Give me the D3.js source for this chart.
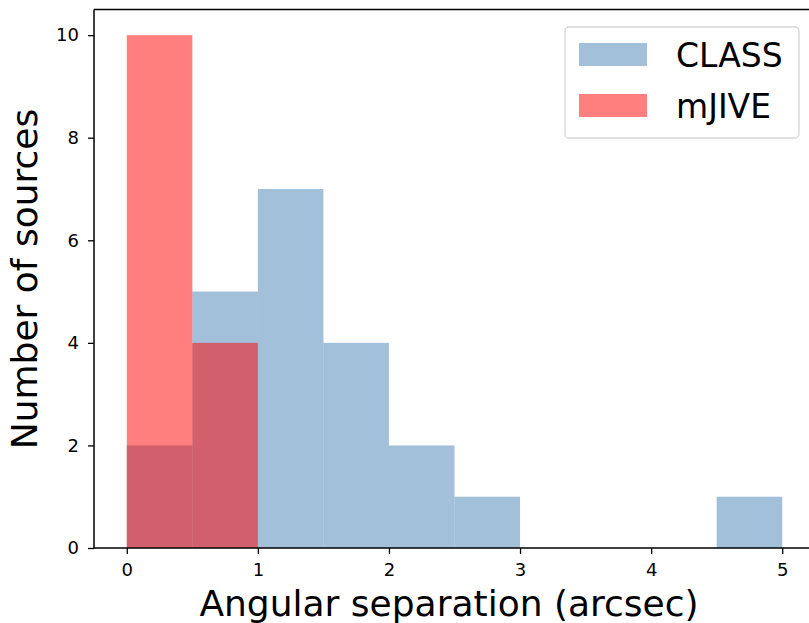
<!DOCTYPE html>
<html><head><meta charset="utf-8">
<script src="https://cdn.jsdelivr.net/npm/d3@7"></script>
<style>body{margin:0;background:#fff}svg{display:block}text{font-family:"DejaVu Sans",sans-serif}</style>
</head><body>
<script>
const binEdges = [0,0.5,1,1.5,2,2.5,3,3.5,4,4.5,5];
const classCounts = [2,5,7,4,2,1,0,0,0,1];
const mjiveEdges = [0,0.5,1];
const mjiveCounts = [10,4];
const xTicks = [0,1,2,3,4,5];
const yTicks = [0,2,4,6,8,10];
const seriesNames = ["CLASS","mJIVE"];

const W=809,H=623;
const svg=d3.select("body").append("svg").attr("width",W).attr("height",H);
const x=d3.scaleLinear().domain([-0.25,5.25]).range([94,815]);
const y=d3.scaleLinear().domain([0,10.5]).range([548,9.5]);
const cols={CLASS:"rgb(70,130,180)",mJIVE:"rgb(255,0,0)"};

const plot=svg.append("g");
const classBins=classCounts.map((c,i)=>({x0:binEdges[i],x1:binEdges[i+1],c})).filter(d=>d.c>0);
plot.selectAll(".c").data(classBins).enter().append("rect")
 .attr("x",d=>x(d.x0)).attr("width",d=>x(d.x1)-x(d.x0))
 .attr("y",d=>y(d.c)).attr("height",d=>y(0)-y(d.c))
 .attr("fill",cols.CLASS).attr("fill-opacity",0.5);
const mBins=mjiveCounts.map((c,i)=>({x0:mjiveEdges[i],x1:mjiveEdges[i+1],c}));
plot.selectAll(".m").data(mBins).enter().append("rect")
 .attr("x",d=>x(d.x0)).attr("width",d=>x(d.x1)-x(d.x0))
 .attr("y",d=>y(d.c)).attr("height",d=>y(0)-y(d.c))
 .attr("fill",cols.mJIVE).attr("fill-opacity",0.5);

// axes
const xa=svg.append("g").attr("transform","translate(0,548)")
 .call(d3.axisBottom(x).tickValues(xTicks).tickSize(6).tickPadding(9).tickFormat(d3.format("d")));
const ya=svg.append("g").attr("transform","translate(94,0)")
 .call(d3.axisLeft(y).tickValues(yTicks).tickSize(6).tickPadding(9).tickFormat(d3.format("d")));
[xa,ya].forEach(a=>{a.select(".domain").remove();
 a.selectAll(".tick line").attr("stroke","#000").attr("stroke-width",1.3);
 a.selectAll(".tick text").attr("font-size",18).attr("fill","#000").style("font-family","DejaVu Sans");});
// spines
svg.append("line").attr("x1",94).attr("x2",94).attr("y1",9.5).attr("y2",548).attr("stroke","#000").attr("stroke-width",1.5);
svg.append("line").attr("x1",94).attr("x2",W).attr("y1",548).attr("y2",548).attr("stroke","#000").attr("stroke-width",1.5);
svg.append("line").attr("x1",94).attr("x2",W).attr("y1",9.5).attr("y2",9.5).attr("stroke","#000").attr("stroke-width",1.5);

svg.append("text").attr("x",449).attr("y",616).attr("text-anchor","middle").attr("font-size",36).text("Angular separation (arcsec)");
svg.append("text").attr("transform","translate(37,279) rotate(-90)").attr("text-anchor","middle").attr("font-size",36).text("Number of sources");

// legend
const lg=svg.append("g");
lg.append("rect").attr("x",565).attr("y",27).attr("width",234).attr("height",111).attr("rx",4)
 .attr("fill","#fff").attr("fill-opacity",0.8).attr("stroke","#d6d6d6").attr("stroke-width",1.3);
seriesNames.forEach((n,i)=>{
 lg.append("rect").attr("x",579).attr("y",43+i*51).attr("width",68).attr("height",23).attr("fill",cols[n]).attr("fill-opacity",0.5);
 lg.append("text").attr("x",676).attr("y",67+i*51).attr("font-size",33).text(n);
});
</script>
</body></html>
